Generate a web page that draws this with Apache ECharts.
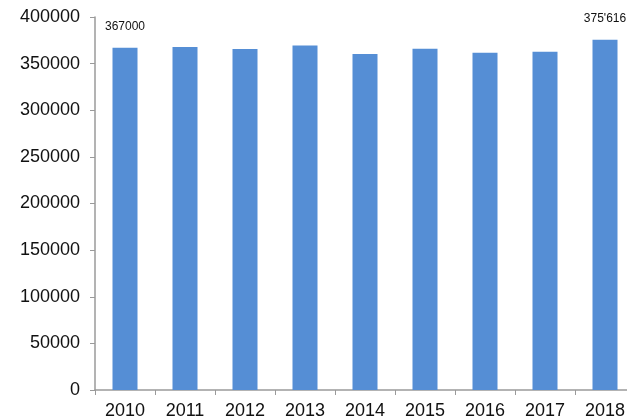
<!DOCTYPE html>
<html>
<head>
<meta charset="utf-8">
<script src="https://cdn.jsdelivr.net/npm/echarts@6/dist/echarts.min.js"></script>
<style>html,body{margin:0;padding:0;background:#fff;overflow:hidden;width:627px;height:420px;}#c{width:645px;height:420px;}</style>
</head>
<body>
<div id="c"></div>
<script>
const years = ['2010','2011','2012','2013','2014','2015','2016','2017','2018'];
const values = [367000, 367800, 365600, 369500, 360200, 365900, 361600, 362700, 375616];
const valueLabels = ['367000', '', '', '', '', '', '', '', "375'616"];
const yTicks = [0, 50000, 100000, 150000, 200000, 250000, 300000, 350000, 400000];

const chart = echarts.init(document.getElementById('c'), null, {renderer: 'canvas'});
chart.setOption({
  animation: false,
  grid: {left: 95, width: 540, top: 17, bottom: 30, containLabel: false},
  xAxis: {
    type: 'category',
    data: years,
    axisLine: {lineStyle: {color: '#9a9a9a', width: 1.5}},
    axisTick: {show: true, length: 5, lineStyle: {color: '#9a9a9a'}},
    axisLabel: {color: '#111', fontSize: 18, fontFamily: 'Liberation Sans, Arial', margin: 12}
  },
  yAxis: {
    type: 'value',
    min: yTicks[0], max: yTicks[yTicks.length - 1], interval: 50000,
    splitLine: {show: false},
    axisLine: {show: true, lineStyle: {color: '#9a9a9a', width: 1.5}},
    axisTick: {show: true, length: 5, lineStyle: {color: '#9a9a9a'}},
    axisLabel: {color: '#111', fontSize: 18, fontFamily: 'Liberation Sans, Arial', margin: 15,
      formatter: v => String(v)}
  },
  series: [{
    type: 'bar',
    data: values,
    barWidth: 25,
    itemStyle: {color: '#558ED5'},
    label: {
      show: true, position: 'top', distance: 15,
      color: '#111', fontSize: 12, fontFamily: 'Liberation Sans, Arial',
      formatter: p => valueLabels[p.dataIndex]
    }
  }]
});
</script>
</body>
</html>
